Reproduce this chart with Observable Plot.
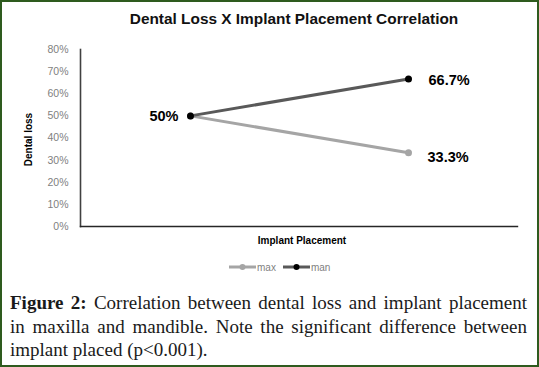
<!DOCTYPE html>
<html><head><meta charset="utf-8">
<script src="https://cdn.jsdelivr.net/npm/d3@7"></script>
<script src="https://cdn.jsdelivr.net/npm/@observablehq/plot@0.6"></script>
<style>
html,body{margin:0;padding:0;background:#fff;}
#wrap{position:relative;width:539px;height:367px;overflow:hidden;font-family:"Liberation Sans",Arial,sans-serif;background:#fff;}
#border{position:absolute;left:0;top:0;width:539px;height:367px;box-sizing:border-box;border:2px solid #2e5b1e;pointer-events:none;}
#chart{position:absolute;left:0;top:0;}
#legend{position:absolute;top:261px;left:229px;display:flex;align-items:center;height:12px;}
#legend .item{display:flex;align-items:center;margin-right:7px;}
#legend span{font-size:10px;color:#7f7f7f;margin-left:1px;}
#caption{position:absolute;left:10px;top:291px;width:517px;font-family:"Liberation Serif","Times New Roman",serif;font-size:19px;line-height:23.5px;color:#1a1a1a;}
#caption .j{text-align:justify;text-align-last:justify;}
</style></head>
<body>
<div id="wrap">
  <div id="chart"></div>
  <div id="legend"></div>
  <div id="caption">
    <div class="j"><b>Figure 2:</b> Correlation between dental loss and implant placement</div>
    <div class="j">in maxilla and mandible. Note the significant difference between</div>
    <div>implant placed (p&lt;0.001).</div>
  </div>
  <div id="border"></div>
</div>
<script>
const title = "Dental Loss X Implant Placement Correlation";
const stages = ["Dental Loss", "Implant Placement"];
const series = ["max", "man"];
const maxValues = [0.5, 0.333];
const manValues = [0.5, 0.667];
const lineColors = ["#a5a5a5", "#595959"];
const dotColors = ["#a5a5a5", "#000000"];
const yTicks = [0, 0.1, 0.2, 0.3, 0.4, 0.5, 0.6, 0.7, 0.8];
const yLabel = "Dental loss";
const xLabel = "Implant Placement";

const valuesBySeries = {max: maxValues, man: manValues};
const rows = series.flatMap(s => stages.map((st, i) => ({series: s, stage: st, i, value: valuesBySeries[s][i]})));
const fmt = d3.format(".1~%");

const startLabels = rows.filter(d => d.i === 0 && d.series === "man");
const endUp = rows.filter(d => d.i === 1 && d.series === "man");
const endDown = rows.filter(d => d.i === 1 && d.series === "max");

const chart = Plot.plot({
  width: 539,
  height: 280,
  marginLeft: 80,
  marginRight: 22,
  marginTop: 49,
  marginBottom: 54,
  style: {fontFamily: "Liberation Sans, Arial, sans-serif", background: "transparent"},
  x: {type: "point", domain: stages, padding: 0.5, axis: null},
  y: {domain: [0, 0.8], axis: null},
  color: {domain: series, range: lineColors},
  marks: [
    Plot.axisY({ticks: yTicks, tickSize: 0, tickPadding: 12, tickFormat: d3.format(".0%"), fill: "#7f7f7f", fontSize: 10.5, label: null}),
    Plot.frame({anchor: "left", stroke: "#404040", strokeWidth: 1.6}),
    Plot.frame({anchor: "bottom", stroke: "#262626", strokeWidth: 1.4}),
    Plot.line(rows, {x: "stage", y: "value", z: "series", stroke: "series", strokeWidth: 3}),
    Plot.dot(rows, {x: "stage", y: "value", r: 3.5, fill: d => dotColors[series.indexOf(d.series)], stroke: null}),
    Plot.text(startLabels, {x: "stage", y: "value", text: d => fmt(d.value), textAnchor: "end", dx: -12, fontSize: 14.5, fontWeight: "bold", fill: "#000"}),
    Plot.text(endUp, {x: "stage", y: "value", text: d => fmt(d.value), textAnchor: "start", dx: 20, dy: 1, fontSize: 14.5, fontWeight: "bold", fill: "#000"}),
    Plot.text(endDown, {x: "stage", y: "value", text: d => fmt(d.value), textAnchor: "start", dx: 19, dy: 5, fontSize: 14.5, fontWeight: "bold", fill: "#000"}),
    Plot.text([title], {frameAnchor: "top", lineAnchor: "middle", textAnchor: "middle", dy: -30, dx: -5, fontSize: 15.4, fontWeight: "bold", fill: "#111"}),
    Plot.text([xLabel], {frameAnchor: "bottom", lineAnchor: "middle", textAnchor: "middle", dy: 14, dx: 3, fontSize: 10, fontWeight: "bold", fill: "#000"}),
    Plot.text([yLabel], {frameAnchor: "left", lineAnchor: "middle", textAnchor: "middle", dx: -52, dy: 1.5, rotate: -90, fontSize: 10, fontWeight: "bold", fill: "#000"})
  ]
});
document.getElementById("chart").appendChild(chart);

const legend = document.getElementById("legend");
series.forEach((s, k) => {
  const item = document.createElement("div");
  item.className = "item";
  item.innerHTML = `<svg width="27" height="12"><line x1="0" x2="27" y1="6" y2="6" stroke="${lineColors[k]}" stroke-width="3"/><circle cx="13.5" cy="6" r="3" fill="${dotColors[k]}"/></svg><span>${s}</span>`;
  legend.appendChild(item);
});
</script>
</body></html>
